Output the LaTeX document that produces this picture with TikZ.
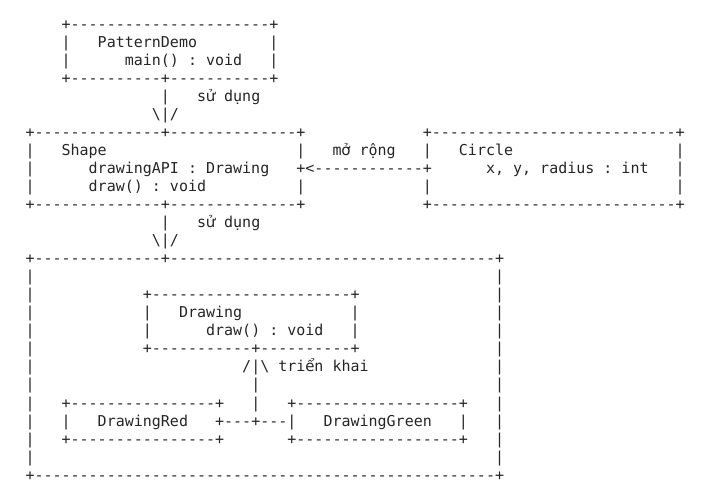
\documentclass[tikz,border=0pt]{standalone}
\usepackage{fontspec}
\setmonofont{DejaVu Sans Mono}
\newfontfamily\vnfont{DejaVu Sans}
\usepackage{tikz}

% letter that the mono font lacks, set in one character cell
\newcommand{\vnch}[1]{\makebox[0.602em][c]{\vnfont #1}}

\begin{document}
\begin{tikzpicture}[
    x=9.031pt, y=-18.04pt,
    ascii/.style={anchor=base west, inner sep=0pt, outer sep=0pt,
        font={\fontsize{15pt}{18pt}\selectfont\ttfamily\frenchspacing},
        text=black!85}
]

% one column = one character, one row = one text line
\fill[white] (-2.824,-1.619) rectangle (75.91,26.21);
\useasboundingbox (-2.824,-1.619) rectangle (75.91,26.21);

% =========================================================================
% 1. PatternDemo
% =========================================================================
\node[ascii] (pdTop)  at (4,0)  {+----------------------+};
\node[ascii] (pdL1)   at (4,1)  {|};
\node[ascii] (pdName) at (8,1)  {PatternDemo};
\node[ascii] (pdR1)   at (27,1) {|};
\node[ascii] (pdL2)   at (4,2)  {|};
\node[ascii] (pdMain) at (11,2) {main() : void};
\node[ascii] (pdR2)   at (27,2) {|};
\node[ascii] (pdBot)  at (4,3)  {+----------+-----------+};

% uses -> Shape
\node[ascii] (useBar1) at (15,4) {|};
\node[ascii] (useLbl1) at (19,4) {s\vnch{ử} dụng};
\node[ascii] (useTip1) at (14,5) {\textbackslash|/};

% =========================================================================
% 2. Shape  <-- mở rộng --  Circle
% =========================================================================
\node[ascii] (shTop) at (0,6)  {+--------------+--------------+};
\node[ascii] (ciTop) at (44,6) {+---------------------------+};

\foreach \r in {7,9} {
    \node[ascii] (shL\r) at (0,\r)  {|};
    \node[ascii] (shR\r) at (30,\r) {|};
    \node[ascii] (ciL\r) at (44,\r) {|};
    \node[ascii] (ciR\r) at (72,\r) {|};
}
\node[ascii] (shL8) at (0,8)  {|};
\node[ascii] (ciR8) at (72,8) {|};

\node[ascii] (shName) at (4,7)  {Shape};
\node[ascii] (shApi)  at (7,8)  {drawingAPI : Drawing};
\node[ascii] (shDraw) at (7,9)  {draw() : void};

\node[ascii] (extLbl) at (34,7) {m\vnch{ở} rộng};
\node[ascii] (extArr) at (30,8) {+<------------+};

\node[ascii] (ciName) at (48,7) {Circle};
\node[ascii] (ciVars) at (51,8) {x, y, radius : int};

\node[ascii] (shBot) at (0,10)  {+--------------+--------------+};
\node[ascii] (ciBot) at (44,10) {+---------------------------+};

% uses -> Drawing
\node[ascii] (useBar2) at (15,11) {|};
\node[ascii] (useLbl2) at (19,11) {s\vnch{ử} dụng};
\node[ascii] (useTip2) at (14,12) {\textbackslash|/};

% =========================================================================
% 3. Drawing + implementations
% =========================================================================
\node[ascii] (bigTop) at (0,13)
    {+--------------+------------------------------------+};
\foreach \r in {14,...,24} {
    \node[ascii] (bigL\r) at (0,\r)  {|};
    \node[ascii] (bigR\r) at (52,\r) {|};
}
\node[ascii] (bigBot) at (0,25)
    {+---------------------------------------------------+};

% interface Drawing
\node[ascii] (dwTop)  at (13,15) {+----------------------+};
\node[ascii] (dwL1)   at (13,16) {|};
\node[ascii] (dwName) at (17,16) {Drawing};
\node[ascii] (dwR1)   at (36,16) {|};
\node[ascii] (dwL2)   at (13,17) {|};
\node[ascii] (dwDraw) at (20,17) {draw() : void};
\node[ascii] (dwR2)   at (36,17) {|};
\node[ascii] (dwBot)  at (13,18) {+-----------+----------+};

% triển khai
\node[ascii] (implTip) at (24,19) {/|\textbackslash{} tri\vnch{ể}n khai};
\node[ascii] (implB1)  at (25,20) {|};
\node[ascii] (implB2)  at (25,21) {|};
\node[ascii] (implJn)  at (21,22) {+---+---|};

% DrawingRed
\node[ascii] (redTop)  at (4,21)  {+----------------+};
\node[ascii] (redL)    at (4,22)  {|};
\node[ascii] (redName) at (8,22)  {DrawingRed};
\node[ascii] (redBot)  at (4,23)  {+----------------+};

% DrawingGreen
\node[ascii] (grTop)  at (29,21) {+------------------+};
\node[ascii] (grName) at (33,22) {DrawingGreen};
\node[ascii] (grR)    at (48,22) {|};
\node[ascii] (grBot)  at (29,23) {+------------------+};

\end{tikzpicture}
\end{document}
